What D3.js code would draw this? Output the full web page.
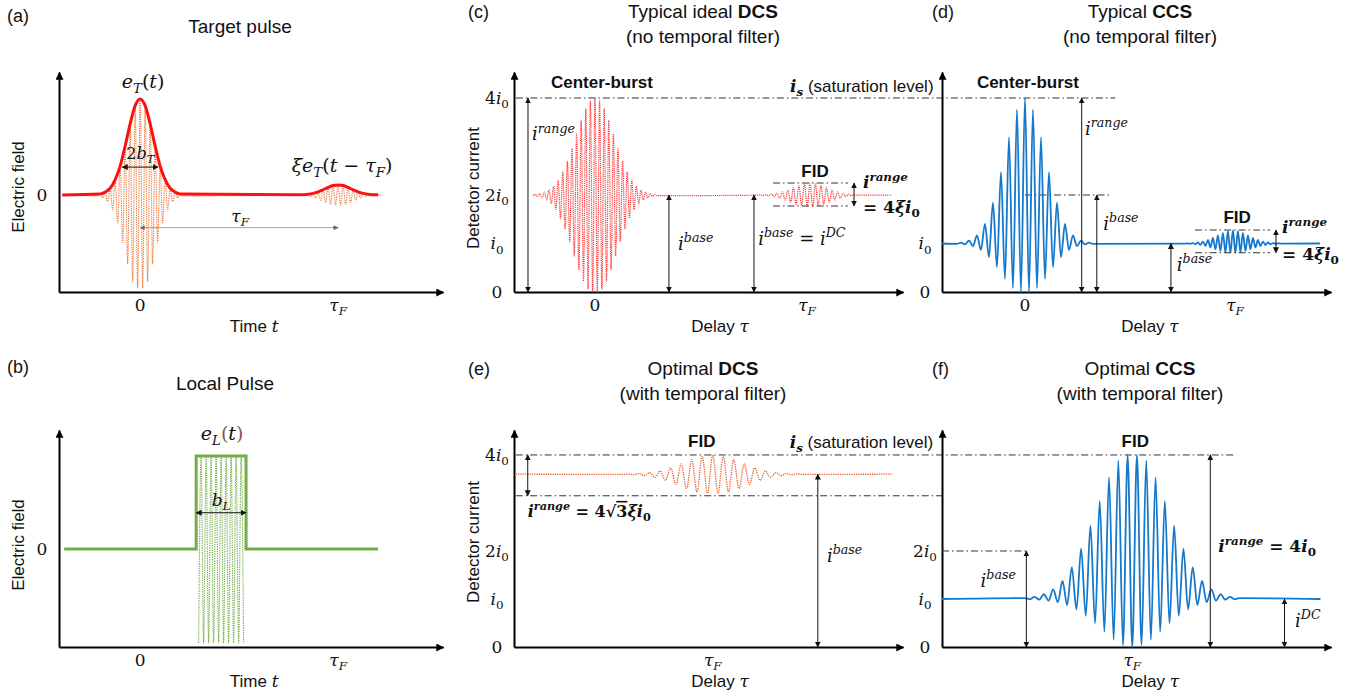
<!DOCTYPE html>
<html><head><meta charset="utf-8">
<script src="https://cdn.jsdelivr.net/npm/d3@7"></script>
<style>body{margin:0;background:#fff} svg{display:block}</style>
</head><body><svg id="c" width="1357" height="695"></svg>
<script>
// ---------------- data ----------------
// time / delay axes: 0 = centre of target pulse, 1 = tau_F
const timeTickValues = [0, 1];
const delayTicksTop = [0, 1];
const delayTicksBottom = [1];
// current ticks (units of i0)
const currentTicksDCS = [0, 1, 2, 4];
const currentTicksCCS = [0, 1];
const currentTicksCCSFilt = [0, 1, 2];
const currentTickLabels = {0: "0", 1: "", 2: "2", 4: "4"};

// half envelopes: one value per carrier period, from the centre outwards
const targetEnv      = [1, 0.93, 0.74, 0.51, 0.30, 0.16, 0.07, 0.03, 0.01];
const targetEchoEnv  = [0.105, 0.098, 0.078, 0.054, 0.032, 0.017, 0.007, 0.003, 0.001];
const localEnv       = [1, 1, 1, 1, 1];
const localWindow    = [0.283, 0.535];
const dcsBurstEnv    = [1, 0.97, 0.89, 0.77, 0.63, 0.48, 0.35, 0.24, 0.15, 0.09, 0.05, 0.03, 0.015, 0.007];
const dcsFidEnv      = [1, 0.95, 0.81, 0.62, 0.43, 0.27, 0.15, 0.08, 0.035, 0.014];
const ccsBurstEnv    = [1, 0.92, 0.73, 0.49, 0.28, 0.135, 0.056, 0.02, 0.006];
const ccsFidEnv      = [1, 0.95, 0.81, 0.62, 0.43, 0.27, 0.15, 0.08, 0.035, 0.014];
const dcsFiltFidEnv  = [1, 0.93, 0.755, 0.53, 0.325, 0.17, 0.08, 0.032, 0.011];
const ccsFiltFidEnv  = [1, 0.96, 0.845, 0.68, 0.51, 0.35, 0.22, 0.125, 0.067, 0.033, 0.015, 0.006];

// carrier periods (axis units) and centres
const targetPeriod = 0.02525, dcsBurstPeriod = 0.0217, dcsFidPeriod = 0.026;
const ccsBurstPeriod = 0.0381, ccsFidPeriod = 0.0238, dcsFiltPeriod = 0.0497, ccsFiltPeriod = 0.044;
const dcsFidCentre = 1.014, ccsFidCentre = 0.99, dcsFiltCentre = 1.0, ccsFiltCentre = 1.0;

// levels (units of i0)
const satLevel = 4;
const dcsBase = 2, ccsBase = 1, dcsFiltBase = 3.6, ccsFiltBase = 1;
const dcsFidAmp = 0.237, ccsFidUp = 0.27, ccsFidDown = 0.19, dcsFiltAmp = 0.4;
const dcsFidRange = [1.773, 2.247], ccsFidRange = [0.81, 1.278], dcsFiltRange = [3.15, 4];

// ---------------- helpers ----------------
const svg = d3.select("#c");
const SANS = "'Liberation Sans', Arial, sans-serif";
const SERIF = "'DejaVu Serif', serif";
const defs = svg.append("defs");
function marker(id, w, h, color) {
  defs.append("marker").attr("id", id).attr("viewBox", "0 0 10 10").attr("refX", 9).attr("refY", 5)
    .attr("markerUnits", "userSpaceOnUse").attr("markerWidth", w).attr("markerHeight", h)
    .attr("orient", "auto-start-reverse")
    .append("path").attr("d", "M0,0 L10,5 L0,10 z").attr("fill", color);
}
marker("axArrow", 9, 8, "#000");
marker("annArrow", 6, 6, "#111");
marker("grayArrow", 6, 5, "#666");

const panels = {
  a: {x: [59, 443], y: [292, 72], xd: [-0.41, 1.53], yd: [-1.01, 1.28]},
  b: {x: [59, 443], y: [647, 430], xd: [-0.41, 1.53], yd: [-1.054, 1.28]},
  c: {x: [514, 903], y: [292, 72], xd: [-0.382, 1.453], yd: [0, 4.536]},
  d: {x: [942, 1331], y: [292, 72], xd: [-0.395, 1.457], yd: [0, 4.536]},
  e: {x: [514, 903], y: [647, 430], xd: [0.06, 1.9], yd: [0, 4.52]},
  f: {x: [942, 1331], y: [647, 430], xd: [0.1, 1.94], yd: [0, 4.52]}
};
Object.values(panels).forEach(p => {
  p.xs = d3.scaleLinear().domain(p.xd).range(p.x);
  p.ys = d3.scaleLinear().domain(p.yd).range(p.y);
});

function rich(x, y, segs, o = {}) {
  const size = o.size || 17;
  const t = svg.append("text").attr("x", x).attr("y", y)
    .attr("font-family", o.family || SERIF).attr("font-size", size)
    .attr("text-anchor", o.anchor || "start").attr("fill", o.fill || "#111");
  if (o.bold) t.attr("font-weight", "bold");
  if (o.rotate) t.attr("transform", `rotate(${o.rotate},${x},${y})`);
  let shift = 0;
  segs.forEach(s => {
    if (typeof s === "string") s = {t: s};
    const target = s.sup ? -0.42 : s.sub ? 0.25 : 0;
    const ts = t.append("tspan").text(s.t);
    const dy = (target - shift) * size;
    if (Math.abs(dy) > 0.01) ts.attr("dy", dy.toFixed(2));
    shift = target;
    if (s.sup || s.sub) ts.attr("font-size", (size * (s.sc || 0.7)).toFixed(1));
    if (s.i) ts.attr("font-style", "italic");
    if (s.b) ts.attr("font-weight", "bold");
    if (s.f) ts.attr("font-family", s.f);
    if (s.c) ts.attr("fill", s.c);
    if (s.o) ts.attr("text-decoration", "overline");
  });
  return t;
}
const I = t => ({t, i: 1});
const SUPI = t => ({t, i: 1, sup: 1});
const SUB = t => ({t, sub: 1});
const SUBI = t => ({t, i: 1, sub: 1});
const BI = t => ({t, i: 1, b: 1});
const BSUPI = t => ({t, i: 1, b: 1, sup: 1});
const BSUB = t => ({t, b: 1, sub: 1});
const B = t => ({t, b: 1});
const SANSt = t => ({t, f: SANS});

function drawAxes(p) {
  const gx = svg.append("g").attr("transform", `translate(0,${p.y[0]})`)
    .call(d3.axisBottom(p.xs).tickValues([]).tickSizeOuter(0));
  gx.select(".domain").attr("stroke", "#000").attr("stroke-width", 2).attr("marker-end", "url(#axArrow)");
  const gy = svg.append("g").attr("transform", `translate(${p.x[0]},0)`)
    .call(d3.axisLeft(p.ys).tickValues([]).tickSizeOuter(0));
  gy.select(".domain").attr("stroke", "#000").attr("stroke-width", 2).attr("marker-end", "url(#axArrow)");
}
function vArrow(p, x, y1, y2, marker = "annArrow") {
  svg.append("line").attr("x1", p.xs(x)).attr("x2", p.xs(x)).attr("y1", p.ys(y1)).attr("y2", p.ys(y2))
    .attr("stroke", "#111").attr("stroke-width", 1)
    .attr("marker-start", `url(#${marker})`).attr("marker-end", `url(#${marker})`);
}
function hArrow(p, y, x1, x2, marker = "annArrow", color = "#111", w = 1) {
  svg.append("line").attr("x1", p.xs(x1)).attr("x2", p.xs(x2)).attr("y1", p.ys(y)).attr("y2", p.ys(y))
    .attr("stroke", color).attr("stroke-width", w)
    .attr("marker-start", `url(#${marker})`).attr("marker-end", `url(#${marker})`);
}
function dashLine(x1, x2, y) {
  svg.append("line").attr("x1", x1).attr("x2", x2).attr("y1", y).attr("y2", y)
    .attr("stroke", "#333").attr("stroke-width", 1).attr("stroke-dasharray", "7,3,1.5,3");
}
function osc(center, period, env, base, up, down, phase = 0) {
  const n = env.length, pts = [];
  for (let j = -(2 * n - 1); j <= 2 * n - 1; j++) {
    const g = env[Math.floor(Math.abs(j) / 2)];
    const top = (((j + phase) % 2) + 2) % 2 === 0;
    pts.push([center + j * period / 2, top ? base + up * g : base - down * g]);
  }
  return pts;
}
function envLine(center, period, env) {
  const n = env.length, pts = [];
  for (let k = -(n - 1); k <= n - 1; k++) pts.push([center + k * period, env[Math.abs(k)]]);
  return pts;
}
function trace(p, pts, color, width, dash, curve = d3.curveMonotoneX) {
  const line = d3.line().x(d => p.xs(d[0])).y(d => p.ys(d[1])).curve(curve);
  const path = svg.append("path").attr("d", line(pts)).attr("fill", "none")
    .attr("stroke", color).attr("stroke-width", width);
  if (dash) path.attr("stroke-dasharray", dash);
  return path;
}
function title(x, y, segs) { rich(x, y, segs, {family: SANS, size: 19, anchor: "middle"}); }
function panelTag(x, y, s) { rich(x, y, [s], {family: SANS, size: 18}); }
function yTitle(x, y, s) { rich(x, y, [s], {family: SANS, size: 17, anchor: "middle", rotate: -90}); }
function curTickLabels(p, values, cx) {
  values.forEach(v => {
    const segs = v === 0 ? ["0"] : [currentTickLabels[v], I("i"), SUB("0")];
    rich(cx, p.ys(v) + 6, segs, {size: 17, anchor: "middle"});
  });
}
function xTickLabels(p, values) {
  values.forEach(v => {
    const segs = v === 0 ? ["0"] : [I("τ"), SUBI("F")];
    rich(p.xs(v), p.y[0] + 19, segs, {size: 17, anchor: "middle"});
  });
}
function xTitle(p, xv, word, sym) {
  rich(p.xs(xv), p.y[0] + 40, [SANSt(word + " "), I(sym)], {size: 17, anchor: "middle"});
}

// ---------------- panel (a) ----------------
{
  const p = panels.a;
  panelTag(7, 22, "(a)");
  title(240, 33, ["Target pulse"]);
  drawAxes(p);
  yTitle(24, 187, "Electric field");
  rich(42, p.ys(0) + 6, ["0"], {size: 17, anchor: "middle"});
  xTickLabels(p, timeTickValues);
  xTitle(p, 0.576, "Time", "t");
  const ORANGE = "#ee7a3a";
  trace(p, [[-0.36, 0], ...osc(0, targetPeriod, targetEnv, 0, 1, 0.97), ...osc(1, targetPeriod, targetEchoEnv, 0, 1, 1), [1.17, 0]],
    ORANGE, 1.1, "1.3,1");
  trace(p, [[-0.394, 0], ...envLine(0, targetPeriod, targetEnv), ...envLine(1, targetPeriod, targetEchoEnv), [1.197, 0]],
    "#ff1010", 3, null);
  rich(p.xs(0.015), p.ys(1.11), [I("e"), SUBI("T"), "(", I("t"), ")"], {size: 19, anchor: "middle"});
  rich(p.xs(0), p.ys(0.37), ["2", I("b"), SUBI("T")], {size: 16, anchor: "middle"});
  hArrow(p, 0.29, -0.09, 0.09);
  rich(p.xs(1.02), p.ys(0.24), [I("ξ"), I("e"), SUBI("T"), "(", I("t"), " − ", I("τ"), SUBI("F"), ")"], {size: 19, anchor: "middle"});
  hArrow(p, -0.34, 0, 1, "grayArrow", "#888", 0.8);
  rich(p.xs(0.505), p.ys(-0.28), [I("τ"), SUBI("F")], {size: 17, anchor: "middle"});
}

// ---------------- panel (b) ----------------
{
  const p = panels.b;
  panelTag(7, 373, "(b)");
  title(225, 390, ["Local Pulse"]);
  drawAxes(p);
  yTitle(24, 545, "Electric field");
  rich(42, p.ys(0) + 6, ["0"], {size: 17, anchor: "middle"});
  xTickLabels(p, timeTickValues);
  xTitle(p, 0.576, "Time", "t");
  const GREEN = "#72ad4a";
  const mid = (localWindow[0] + localWindow[1]) / 2;
  trace(p, osc(mid, targetPeriod, localEnv, 0, 1, 1.01), GREEN, 1.1, "1.3,1");
  trace(p, [[-0.384, 0], [localWindow[0], 0], [localWindow[0], localEnv[0]], [localWindow[1], localEnv[0]],
            [localWindow[1], 0], [1.202, 0]], GREEN, 3, null, d3.curveLinear);
  rich(p.xs(0.414), p.ys(1.17), [I("e"), SUBI("L"), {t: "(", c: "#8a5555"}, I("t"), {t: ")", c: "#8a5555"}], {size: 19, anchor: "middle"});
  rich(p.xs(mid), p.ys(0.46), [I("b"), SUBI("L")], {size: 17, anchor: "middle"});
  hArrow(p, 0.39, localWindow[0], localWindow[1]);
}

// ---------------- panel (c) ----------------
{
  const p = panels.c;
  panelTag(468, 18, "(c)");
  title(703, 18, ["Typical ideal ", B("DCS")]);
  title(703, 43, ["(no temporal filter)"]);
  drawAxes(p);
  yTitle(479, 188, "Detector current");
  curTickLabels(p, currentTicksDCS, 497);
  xTickLabels(p, delayTicksTop);
  xTitle(p, 0.59, "Delay", "τ");
  dashLine(p.xs(-0.373), panels.d.xs(0.43), p.ys(satLevel));
  rich(p.xs(0.033), p.ys(4.2), ["Center-burst"], {family: SANS, size: 17, bold: 1, anchor: "middle"});
  rich(p.xs(0.92), p.ys(4.12), [BI("i"), {t: "s", i: 1, b: 1, sub: 1}, SANSt(" (saturation level)")], {size: 17});
  trace(p, [[-0.29, dcsBase], ...osc(0, dcsBurstPeriod, dcsBurstEnv, dcsBase, 2, 2),
            ...osc(dcsFidCentre, dcsFidPeriod, dcsFidEnv, dcsBase, dcsFidAmp, dcsFidAmp), [1.40, dcsBase]],
    "#ff3a3a", 1.2, "1.2,0.9");
  vArrow(p, -0.316, 0, satLevel);
  rich(p.xs(-0.297), p.ys(3.13), [I("i"), SUPI("range")], {size: 18});
  vArrow(p, 0.349, 0, dcsBase);
  rich(p.xs(0.392), p.ys(0.87), [I("i"), SUPI("base")], {size: 18});
  vArrow(p, 0.75, 0, dcsBase);
  rich(p.xs(0.77), p.ys(0.97), [I("i"), SUPI("base"), " = ", I("i"), SUPI("DC")], {size: 18});
  dashLine(p.xs(0.84), p.xs(1.193), p.ys(dcsFidRange[1]));
  dashLine(p.xs(0.84), p.xs(1.193), p.ys(dcsFidRange[0]));
  vArrow(p, 1.222, dcsFidRange[0], dcsFidRange[1]);
  rich(p.xs(1.038), p.ys(2.37), ["FID"], {family: SANS, size: 17, bold: 1, anchor: "middle"});
  rich(p.xs(1.264), p.ys(2.14), [BI("i"), BSUPI("range")], {size: 17});
  rich(p.xs(1.264), p.ys(1.63), [B("= 4"), BI("ξ"), BI("i"), BSUB("0")], {size: 17});
}

// ---------------- panel (d) ----------------
{
  const p = panels.d;
  panelTag(932, 18, "(d)");
  title(1140, 18, ["Typical ", B("CCS")]);
  title(1140, 43, ["(no temporal filter)"]);
  drawAxes(p);
  curTickLabels(p, currentTicksCCS, 925);
  xTickLabels(p, delayTicksTop);
  xTitle(p, 0.595, "Delay", "τ");
  rich(p.xs(0.014), p.ys(4.2), ["Center-burst"], {family: SANS, size: 17, bold: 1, anchor: "middle"});
  dashLine(p.xs(0), p.xs(0.405), p.ys(2));
  trace(p, [[-0.395, ccsBase], ...osc(0, ccsBurstPeriod, ccsBurstEnv, ccsBase, 3, 1),
            ...osc(ccsFidCentre, ccsFidPeriod, ccsFidEnv, ccsBase, ccsFidUp, ccsFidDown), [1.405, ccsBase]],
    "#1478cc", 1.8, null);
  vArrow(p, 0.27, 0, satLevel);
  rich(p.xs(0.286), p.ys(3.24), [I("i"), SUPI("range")], {size: 18});
  vArrow(p, 0.342, 0, 2);
  rich(p.xs(0.373), p.ys(1.28), [I("i"), SUPI("base")], {size: 18});
  vArrow(p, 0.695, 0, ccsBase);
  rich(p.xs(0.723), p.ys(0.44), [I("i"), SUPI("base")], {size: 18});
  dashLine(p.xs(0.81), p.xs(1.167), p.ys(ccsFidRange[1]));
  dashLine(p.xs(0.81), p.xs(1.167), p.ys(ccsFidRange[0]));
  vArrow(p, 1.195, ccsFidRange[0], ccsFidRange[1]);
  rich(p.xs(1.01), p.ys(1.42), ["FID"], {family: SANS, size: 17, bold: 1, anchor: "middle"});
  rich(p.xs(1.224), p.ys(1.21), [BI("i"), BSUPI("range")], {size: 17});
  rich(p.xs(1.224), p.ys(0.66), [B("= 4"), BI("ξ"), BI("i"), BSUB("0")], {size: 17});
}

// ---------------- panel (e) ----------------
{
  const p = panels.e;
  panelTag(468, 375, "(e)");
  title(703, 375, ["Optimal ", B("DCS")]);
  title(703, 400, ["(with temporal filter)"]);
  drawAxes(p);
  yTitle(479, 542, "Detector current");
  curTickLabels(p, currentTicksDCS, 497);
  xTickLabels(p, delayTicksBottom);
  xTitle(p, 1.035, "Delay", "τ");
  dashLine(p.xs(0.068), panels.f.xs(1.478), p.ys(satLevel));
  dashLine(p.xs(0.068), panels.f.x[0], p.ys(dcsFiltRange[0]));
  rich(p.xs(0.948), p.ys(4.17), ["FID"], {family: SANS, size: 17, bold: 1, anchor: "middle"});
  rich(p.xs(1.364), p.ys(4.15), [BI("i"), {t: "s", i: 1, b: 1, sub: 1}, SANSt(" (saturation level)")], {size: 17});
  trace(p, [[0.068, dcsFiltBase], ...osc(dcsFiltCentre, dcsFiltPeriod, dcsFiltFidEnv, dcsFiltBase, dcsFiltAmp, dcsFiltAmp), [1.85, dcsFiltBase]],
    "#ee6030", 1.3, "1.3,1");
  vArrow(p, 0.125, dcsFiltRange[0], dcsFiltRange[1]);
  rich(p.xs(0.125), p.ys(2.71), [BI("i"), BSUPI("range"), B(" = 4√"), {t: "3", b: 1, o: 1}, BI("ξ"), BI("i"), BSUB("0")], {size: 16});
  vArrow(p, 1.497, 0, dcsFiltBase);
  rich(p.xs(1.54), p.ys(1.77), [I("i"), SUPI("base")], {size: 18});
}

// ---------------- panel (f) ----------------
{
  const p = panels.f;
  panelTag(932, 375, "(f)");
  title(1140, 375, ["Optimal ", B("CCS")]);
  title(1140, 400, ["(with temporal filter)"]);
  drawAxes(p);
  curTickLabels(p, currentTicksCCSFilt, 925);
  xTickLabels(p, delayTicksBottom);
  xTitle(p, 1.085, "Delay", "τ");
  rich(p.xs(1.014), p.ys(4.17), ["FID"], {family: SANS, size: 17, bold: 1, anchor: "middle"});
  dashLine(p.xs(0.1), p.xs(0.499), p.ys(2));
  trace(p, [[0.1, ccsFiltBase], ...osc(ccsFiltCentre, ccsFiltPeriod, ccsFiltFidEnv, ccsFiltBase, 3, 1, 1), [1.89, ccsFiltBase]],
    "#1478cc", 1.8, null);
  vArrow(p, 0.499, 0, 2);
  rich(p.xs(0.366), p.ys(1.25), [I("i"), SUPI("base")], {size: 18, anchor: "middle"});
  vArrow(p, 1.369, 0, satLevel);
  rich(p.xs(1.407), p.ys(1.98), [BI("i"), BSUPI("range"), B(" = 4"), BI("i"), BSUB("0")], {size: 17});
  vArrow(p, 1.72, 0, ccsFiltBase);
  rich(p.xs(1.77), p.ys(0.42), [I("i"), SUPI("DC")], {size: 18});
}
</script></body></html>
